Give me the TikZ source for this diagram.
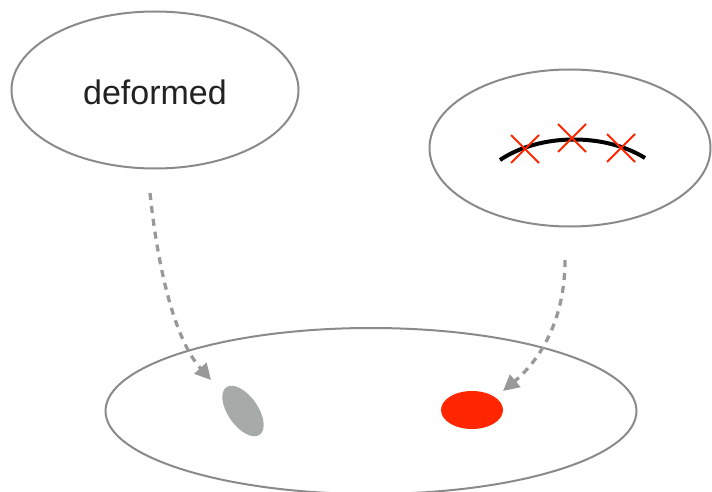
\documentclass[tikz,border=0pt]{standalone}
\usepackage{fontspec}
\setmainfont{Liberation Sans}
\usetikzlibrary{shapes.geometric,arrows.meta}
\definecolor{outl}{HTML}{8A8A8A}
\definecolor{dashc}{HTML}{999999}
\definecolor{blobg}{HTML}{A6AAA9}
\definecolor{blobr}{HTML}{FF2600}
\definecolor{txtc}{HTML}{222222}
\tikzset{
  bigell/.style={ellipse, draw=outl, line width=2pt, inner sep=0pt},
  flowarrow/.style={draw=dashc, line width=3.3pt, dash pattern=on 7pt off 6pt,
    -{Triangle[length=16pt,width=16pt,fill=dashc]}, shorten >=0pt},
  xmark/.style={draw=blobr, line width=2pt},
}
\begin{document}
\begin{tikzpicture}[x=1pt,y=1pt]
\useasboundingbox (0,0) rectangle (712,-492);
\node[bigell, minimum width=287pt, minimum height=157pt] (tl) at (155,-90) {};
\node[font=\fontsize{34}{38}\selectfont, text=txtc] (lbl) at (155,-92) {deformed};
\node[bigell, minimum width=281pt, minimum height=157pt] (tr) at (570,-148) {};
\node[bigell, minimum width=531pt, minimum height=166pt] (bot) at (371,-411) {};
\node[ellipse, fill=blobg, minimum width=58pt, minimum height=30pt, inner sep=0pt, rotate=-55] (g) at (243,-411) {};
\node[ellipse, fill=blobr, minimum width=62pt, minimum height=38pt, inner sep=0pt] (r) at (472,-410) {};
% arc with crosses
\coordinate (a1) at (500,-160);
\coordinate (a2) at (645,-158);
\draw[line width=4pt] (a1) .. controls (540,-133) and (605,-133) .. (a2);
\foreach \cx/\cy [count=\i] in {525/-149,572/-138,621/-148}{
  \coordinate (c\i) at (\cx,\cy);
  \draw[xmark] ([shift={(-14,14)}]c\i) -- ([shift={(14,-14)}]c\i);
  \draw[xmark] ([shift={(-14,-14)}]c\i) -- ([shift={(14,14)}]c\i);
}
% arrows
\coordinate (s1) at (150,-193);
\coordinate (e1) at (211,-380);
\coordinate (s2) at (565,-260);
\coordinate (e2) at (503,-391);
\draw[flowarrow] (s1) .. controls (158,-270) and (175,-340) .. (e1);
\draw[flowarrow] (s2) .. controls (565,-320) and (540,-360) .. (e2);
\end{tikzpicture}
\end{document}
